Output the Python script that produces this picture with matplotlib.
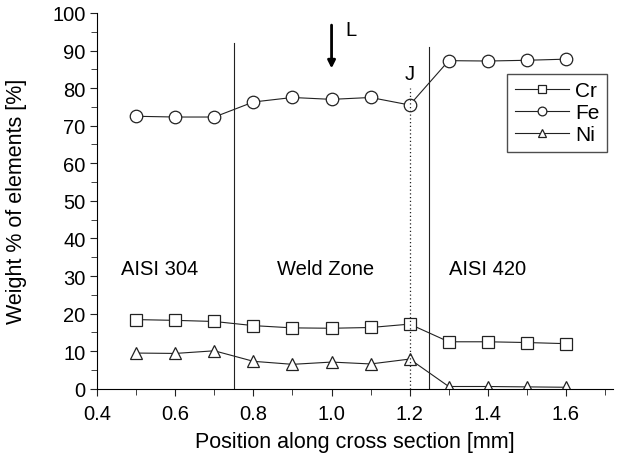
import matplotlib
matplotlib.use("Agg")
import matplotlib.pyplot as plt
from matplotlib.ticker import MultipleLocator

plt.rcParams['font.family'] = ['Liberation Sans', 'DejaVu Sans']

position = [0.5, 0.6, 0.7, 0.8, 0.9, 1.0, 1.1, 1.2, 1.3, 1.4, 1.5, 1.6]
cr = [18.4, 18.2, 17.9, 16.8, 16.2, 16.1, 16.3, 17.2, 12.5, 12.5, 12.3, 12.0]
fe = [72.5, 72.3, 72.3, 76.3, 77.5, 77.0, 77.5, 75.5, 87.3, 87.2, 87.4, 87.7]
ni = [9.5, 9.4, 10.1, 7.3, 6.5, 7.1, 6.6, 7.9, 0.6, 0.6, 0.5, 0.4]

zone_bounds = [0.75, 1.25]
zone_tops = [92, 91]
zone_labels = ["AISI 304", "Weld Zone", "AISI 420"]
zone_label_x = [0.56, 0.985, 1.4]

FS = 14.5

fig = plt.figure(figsize=(6.19, 4.64), dpi=100)
ax = fig.add_axes([0.157, 0.16, 0.833, 0.81])

line_kw = dict(color='#222222', lw=0.8, markersize=9, markerfacecolor='white',
               markeredgecolor='#222222', markeredgewidth=0.9)
ax.plot(position, cr, marker='s', label='Cr', **line_kw)
ax.plot(position, fe, marker='o', label='Fe', **line_kw)
ax.plot(position, ni, marker='^', label='Ni', **line_kw)

for xb, top in zip(zone_bounds, zone_tops):
    ax.plot([xb, xb], [0, top], color='#222222', lw=0.8)
ax.plot([1.2, 1.2], [0, 80], color='#222222', lw=0.9, ls=(0, (1, 2)))

for lab, xl in zip(zone_labels, zone_label_x):
    ax.text(xl, 32, lab, ha='center', va='center', fontsize=14.5)

ax.annotate('', xy=(1.0, 84.5), xytext=(1.0, 97.5),
            arrowprops=dict(arrowstyle='-|>', color='black', lw=2.0, mutation_scale=11))
ax.text(1.05, 95.5, 'L', fontsize=FS, ha='center', va='center')
ax.text(1.2, 84, 'J', fontsize=FS, ha='center', va='center')

ax.set_xlim(0.4, 1.72)
ax.set_ylim(0, 100)
ax.xaxis.set_major_locator(MultipleLocator(0.2))
ax.xaxis.set_minor_locator(MultipleLocator(0.1))
ax.yaxis.set_major_locator(MultipleLocator(10))
ax.yaxis.set_minor_locator(MultipleLocator(5))
ax.spines['top'].set_visible(False)
ax.spines['right'].set_visible(False)
ax.tick_params(which='both', direction='out', labelsize=FS, color='#222222')
ax.tick_params(axis='x', pad=6)
ax.tick_params(which='major', length=5)
ax.tick_params(which='minor', length=4)

ax.set_xlabel('Position along cross section [mm]', fontsize=15.5, labelpad=6)
ax.set_ylabel('Weight % of elements [%]', fontsize=15.5, labelpad=18)

leg = ax.legend(loc='upper right', bbox_to_anchor=(0.988, 0.838), borderaxespad=0,
                fontsize=15, frameon=True, fancybox=False, edgecolor='#222222',
                handlelength=2.6, borderpad=0.35, labelspacing=0.15,
                handletextpad=0.3, markerscale=0.7)
leg.get_frame().set_linewidth(1.0)

fig.savefig('out.png', dpi=100)
